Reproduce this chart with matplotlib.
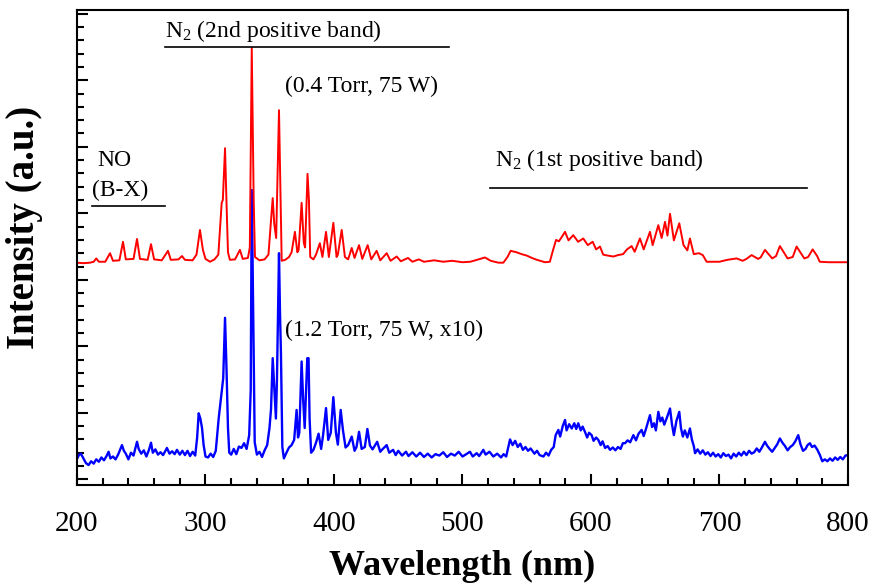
import matplotlib
matplotlib.use("Agg")
import matplotlib.pyplot as plt
from matplotlib.ticker import MultipleLocator

plt.rcParams["font.family"] = ["Liberation Serif", "DejaVu Serif"]
plt.rcParams["mathtext.default"] = "regular"

# red trace: 0.4 Torr, 75 W (wavelength nm, intensity a.u. on plot scale)
red_wl = [200, 205, 210, 213, 215, 217, 222, 225.7, 228, 233, 235.8, 238, 244, 246.7, 249,
          255, 257.6, 260, 266, 270.8, 273, 279, 281.7, 284, 290, 293, 295.7, 298, 300, 303.5,
          307, 310, 312.6, 313.5, 315.2, 316.5, 317.5, 319, 323, 326.8, 329, 333, 334.5, 336,
          337.5, 338.5, 342, 346, 349, 352.3, 353.5, 355, 357.2, 358.5, 359.3, 362, 365, 367,
          369.6, 371.5, 372.5, 374.8, 376.5, 377.5, 379.4, 380.5, 381.5, 384, 386, 389, 391,
          393.8, 396, 399.5, 402, 403, 406, 408.5, 411, 413.8, 416, 419.5, 422, 426.2, 429,
          433.2, 436, 441, 444, 448.8, 452, 457.6, 461, 466, 470, 478, 485, 492, 500, 506, 510,
          517.5, 522, 528, 531.8, 535, 537.5, 542, 546, 550, 554, 558, 564.2, 568, 570, 572.8,
          575, 577, 579.8, 582.5, 586.2, 590, 594, 597.5, 601.3, 604, 607, 609.5, 613, 617.4,
          621, 625, 628, 631.6, 634, 638.1, 641, 645.9, 648, 652.4, 655, 657.6, 659.5, 661.5,
          664.5, 668.7, 672, 675, 677, 680, 684, 687, 690, 700, 706, 713.4, 718, 721, 725, 730,
          732, 735.4, 741, 744, 747, 753, 757, 760, 766, 769, 772.5, 776, 778, 785, 800]
red_int = [46.8, 46.7, 46.8, 47.0, 47.7, 47.0, 47.0, 48.8, 47.2, 47.3, 51.2, 47.5, 47.6, 51.8, 47.6,
           47.4, 50.7, 47.5, 47.3, 49.3, 47.4, 47.5, 48.2, 47.4, 47.3, 48.5, 53.7, 49.5, 47.6, 47.0,
           47.5, 48.5, 59.4, 60.0, 70.9, 58.0, 49.0, 47.4, 47.5, 49.5, 47.6, 47.8, 50.0, 92.0,
           60.0, 48.0, 47.3, 47.5, 48.5, 60.4, 55.0, 52.0, 78.9, 60.0, 47.2, 47.4, 48.0, 49.0,
           53.3, 49.0, 49.5, 59.4, 51.0, 50.0, 65.5, 60.0, 48.0, 47.5, 48.5, 50.9, 48.0,
           53.3, 48.0, 55.2, 48.0, 48.5, 53.7, 48.0, 47.5, 49.9, 47.8, 50.5, 47.6, 50.5, 47.5,
           49.3, 47.3, 48.8, 47.2, 48.1, 47.1, 47.8, 47.0, 47.5, 47.0, 47.3, 47.0, 47.2, 46.9, 47.0, 47.3,
           47.9, 47.2, 46.8, 46.8, 48.0, 49.3, 49.0, 48.6, 48.3, 47.8, 47.4, 46.9, 47.0, 49.0, 51.6,
           51.3, 52.1, 53.3, 51.5, 52.6, 51.2, 51.9, 50.5, 51.2, 49.6, 50.2, 48.5, 48.3, 48.1,
           48.4, 48.6, 49.6, 50.3, 49.1, 51.9, 49.6, 53.3, 50.5, 54.7, 52.0, 55.4, 52.5, 57.1,
           51.5, 55.1, 50.5, 49.4, 51.9, 48.6, 48.8, 48.4, 47.0, 47.0, 47.4, 47.7, 47.2, 47.6, 48.4, 47.6,
           47.9, 49.5, 47.7, 48.2, 50.3, 47.7, 48.0, 50.2, 47.7, 48.0, 49.6, 48.2, 47.0, 46.9, 46.9]

# blue trace: 1.2 Torr, 75 W, x10
blue_wl = [200, 201.5, 203, 205, 207, 209, 211, 213, 215, 217, 219, 221, 223, 224.6, 226, 228, 230,
           232, 235, 236.5, 238, 240, 242, 244, 246.7, 248, 250, 252, 254, 256, 257.6, 259, 261,
           263, 265, 267, 270, 272, 274, 276, 277.8, 280, 282, 284, 286, 288, 290, 292, 293.5,
           294.7, 296, 297.3, 298.5, 300, 302, 304, 306, 308, 310.3, 312.8, 313.8, 315.2, 316.3,
           317.5, 318.5, 320, 322, 324, 326, 328, 330, 332, 334, 335.2, 336, 337.2, 338.3, 340,
           342, 344, 346, 348, 349.8, 351, 352.3, 353.6, 354.8, 355.6, 357.2, 358, 358.7, 359.8,
           361, 363, 365, 367, 369, 370.9, 372, 373, 374.8, 376, 377.2, 378.3, 379.2, 380.2, 381,
           382.2, 384, 386, 388, 390, 391.5, 393.8, 395.5, 397.5, 399.5, 401.5, 403, 405.2, 407,
           409, 411, 413.8, 416, 417.5, 419.5, 421.5, 424, 426, 428, 430, 433.6, 436, 438, 441,
           443, 446, 448, 450, 453, 456, 458, 461, 464, 467, 470, 473, 476, 479, 482, 485, 488,
           491, 494, 497, 500, 503, 505.8, 508, 511, 513, 516.2, 518, 521, 524, 527, 530, 532,
           534, 537, 539, 541, 543, 545, 547, 549, 551, 553, 556, 558, 560, 563, 565, 567, 569,
           571, 572.5, 574.6, 576, 578, 579.8, 581, 583, 585, 587, 588.5, 590.1, 592, 593.5,
           595.3, 597, 598.5, 600.5, 602, 604, 605.7, 607.5, 609, 611, 613, 614.8, 617, 619, 621,
           623, 624.8, 626.5, 628.5, 630.5, 633, 635, 637, 639.4, 641, 643, 645.9, 647.5, 649,
           650.5, 652.4, 654, 655.5, 657, 659.5, 661.5, 663, 664.5, 666.5, 668.7, 670, 671.5,
           673, 675, 677, 678.5, 680, 681, 683, 685, 687, 689, 691, 693, 695, 697, 699, 701, 703,
           705, 707, 709, 711, 713, 715, 717, 719, 721, 723, 725, 727, 729, 731, 733, 735.4, 737,
           739, 741, 743, 745, 747, 749, 751, 753, 755, 757, 759, 761.3, 763, 765, 767, 768.5,
           770.4, 772, 774, 776, 778, 780, 782, 784, 786, 788, 790, 792, 794, 796, 798, 800]
blue_int = [5.5, 6.3, 6.6, 5.6, 4.6, 4.2, 5.0, 4.5, 5.4, 4.9, 5.8, 5.2, 6.1, 7.0, 5.6, 6.0, 5.4,
            6.4, 8.4, 7.2, 6.6, 5.4, 6.8, 6.2, 9.1, 7.6, 6.6, 7.3, 6.0, 7.4, 8.9, 6.8, 7.5,
            6.4, 6.9, 6.3, 7.8, 6.6, 7.1, 6.5, 7.4, 6.4, 7.2, 6.3, 7.2, 6.1, 7.0, 6.2, 10.0,
            15.1, 14.0, 12.0, 8.5, 6.0, 5.8, 6.6, 5.9, 7.2, 14.1, 20.0, 22.5, 35.2, 25.0,
            12.0, 6.8, 6.4, 7.6, 6.5, 8.1, 7.8, 8.8, 7.6, 10.5, 20.0, 62.1, 35.0, 9.0, 6.4,
            7.0, 5.9, 7.3, 8.4, 12.0, 16.0, 26.7, 20.0, 14.0, 22.0, 48.8, 36.0, 28.0, 8.0,
            5.6, 6.8, 7.9, 8.4, 9.5, 15.8, 10.0, 11.0, 26.0, 18.0, 12.0, 20.0, 26.7, 26.7, 14.0,
            6.8, 7.4, 8.9, 10.8, 7.6, 10.5, 16.2, 9.5, 11.0, 18.5, 11.0, 8.5, 15.8, 11.5,
            7.9, 8.4, 10.2, 7.2, 8.0, 11.2, 7.6, 8.0, 11.8, 8.3, 7.5, 9.1, 7.0, 7.6, 8.4,
            6.8, 7.4, 6.3, 7.2, 6.2, 7.0, 6.1, 6.9, 6.0, 6.8, 5.9, 6.6, 5.8, 6.5, 6.2, 6.9, 5.9,
            6.6, 6.2, 7.0, 6.0, 6.5, 7.0, 6.0, 6.7, 6.1, 7.4, 6.4, 7.0, 6.0, 6.6, 5.8, 6.5,
            6.0, 9.6, 8.4, 9.3, 8.0, 8.7, 7.4, 8.0, 7.2, 7.7, 6.6, 7.2, 6.3, 6.0, 6.8, 6.2, 7.4,
            8.0, 10.5, 11.6, 10.2, 12.4, 13.7, 11.5, 12.8, 11.9, 13.0, 11.8, 13.0, 11.5, 12.3,
            11.2, 10.0, 11.0, 10.5, 9.3, 10.0, 9.5, 8.4, 9.2, 7.8, 8.2, 7.4, 7.9, 7.3, 8.0,
            7.6, 8.8, 8.8, 9.4, 9.0, 10.5, 9.4, 10.8, 11.6, 10.3, 12.0, 14.7, 12.2, 13.0,
            11.5, 15.4, 13.4, 14.2, 12.7, 14.5, 16.1, 12.8, 10.5, 13.5, 15.4, 12.0, 10.2,
            11.5, 10.0, 11.9, 9.6, 8.2, 6.7, 7.5, 6.6, 7.3, 6.4, 6.9, 6.1, 6.8, 6.0, 6.5, 5.8, 6.7,
            6.1, 6.4, 5.6, 6.6, 6.0, 6.8, 6.2, 7.0, 6.3, 7.2, 6.6, 6.9, 7.7, 7.0, 7.9, 9.1, 8.3,
            7.6, 7.0, 7.8, 8.6, 9.8, 8.9, 8.2, 7.3, 8.0, 8.4, 9.2, 10.5, 8.6, 7.2, 7.6, 8.4,
            8.8, 8.0, 8.3, 7.5, 6.4, 5.0, 5.4, 5.0, 5.6, 5.1, 5.8, 5.3, 5.9, 5.4, 6.2, 6.3]

fig = plt.figure(figsize=(8.7, 5.84), dpi=100)
ax = fig.add_axes([0.0885, 0.1695, 0.8862, 0.8134])

ax.plot(blue_wl, blue_int, color="#0000ff", lw=1.7)
ax.plot(red_wl, red_int, color="#ff0000", lw=1.4)

ax.set_xlim(200, 800)
ax.set_ylim(0, 100)
ax.xaxis.set_major_locator(MultipleLocator(100))
ax.xaxis.set_minor_locator(MultipleLocator(20))
ax.yaxis.set_major_locator(MultipleLocator(14, offset=1.2))
ax.yaxis.set_minor_locator(MultipleLocator(2.8, offset=1.2))
ax.tick_params(which="both", direction="in", top=False, right=False, width=1.5)
ax.tick_params(which="major", length=8, labelsize=21, pad=19)
ax.tick_params(which="minor", length=5)
ax.tick_params(axis="y", labelleft=False)
for s in ax.spines.values():
    s.set_linewidth(1.5)

ax.set_xlabel("Wavelength (nm)", fontsize=26, fontweight="bold", labelpad=9)
ax.set_ylabel("Intensity (a.u.)", fontsize=28, fontweight="bold")
ax.yaxis.set_label_coords(-0.044, 0.543)

# band annotations
ax.text(268.5, 95.6, "N$_2$ (2nd positive band)", fontsize=17, va="center")
ax.plot([268.5, 489.5], [92.2, 92.2], color="black", lw=1.2)
ax.text(361.9, 83.8, "(0.4 Torr, 75 W)", fontsize=17, va="center")
ax.text(215.6, 68.4, "NO", fontsize=17, va="center")
ax.text(211.7, 62.1, "(B-X)", fontsize=17, va="center")
ax.plot([211.7, 268.5], [58.7, 58.7], color="black", lw=1.2)
ax.text(525.3, 68.4, "N$_2$ (1st positive band)", fontsize=17, va="center")
ax.plot([521.4, 768.1], [62.5, 62.5], color="black", lw=1.2)
ax.text(361.9, 32.6, "(1.2 Torr, 75 W, x10)", fontsize=17, va="center")

fig.savefig("out.png", dpi=100)
